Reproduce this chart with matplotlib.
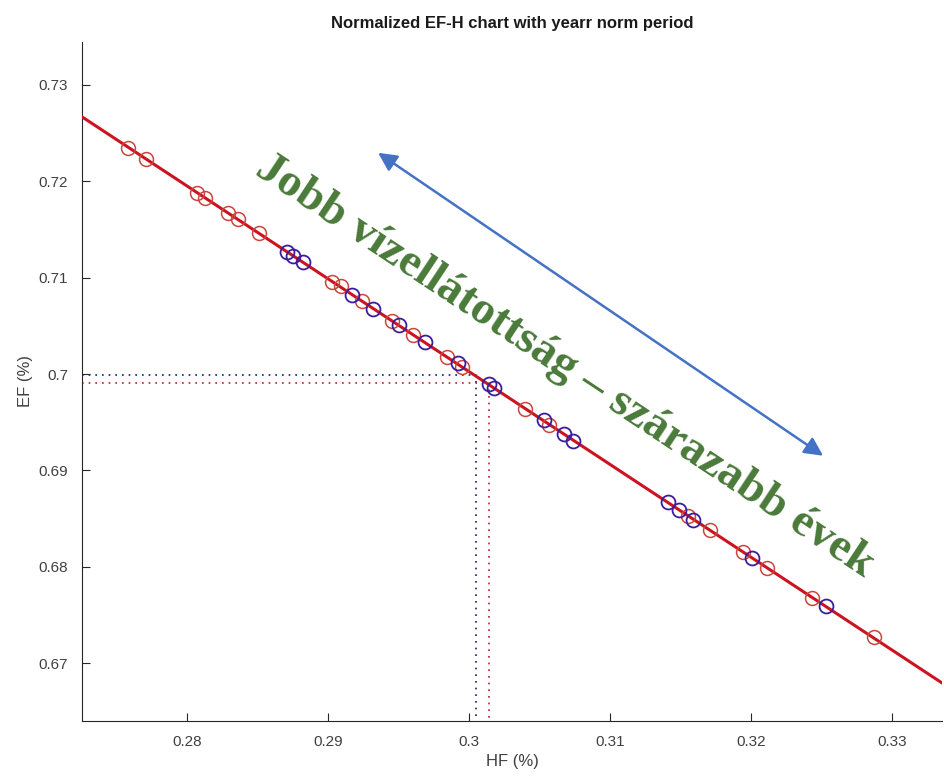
import numpy as np
import matplotlib
matplotlib.use("Agg")
import matplotlib.pyplot as plt

# red circles (HF, EF)
red_hf = [0.2758, 0.2771, 0.2807, 0.2813, 0.2829, 0.2836, 0.2851, 0.2903, 0.2909,
          0.2924, 0.2945, 0.2960, 0.2984, 0.2995, 0.3040, 0.3057, 0.3155, 0.3171,
          0.3194, 0.3211, 0.3243, 0.3287]
red_ef = [0.7235, 0.7223, 0.7188, 0.7183, 0.7167, 0.7161, 0.7146, 0.7096, 0.7091,
          0.7076, 0.7055, 0.7041, 0.7018, 0.7007, 0.6964, 0.6947, 0.6853, 0.6838,
          0.6815, 0.6799, 0.6768, 0.6727]

# blue circles (HF, EF)
blue_hf = [0.2871, 0.2875, 0.2882, 0.2917, 0.2932, 0.2950, 0.2969, 0.2992, 0.3014,
           0.3018, 0.3053, 0.3067, 0.3074, 0.3141, 0.3149, 0.3159, 0.3201, 0.3253]
blue_ef = [0.7127, 0.7123, 0.7116, 0.7082, 0.7068, 0.7051, 0.7033, 0.7011, 0.6990,
           0.6985, 0.6952, 0.6938, 0.6931, 0.6867, 0.6859, 0.6849, 0.6809, 0.6759]

# fitted line end points
line_hf = [0.27255, 0.33355]
line_ef = [0.72669, 0.66793]

# norm-period reference values
blue_norm = (0.30048, 0.69993)
red_norm = (0.30142, 0.69904)

x_ticks = [0.28, 0.29, 0.30, 0.31, 0.32, 0.33]
x_labels = ["0.28", "0.29", "0.3", "0.31", "0.32", "0.33"]
y_ticks = [0.67, 0.68, 0.69, 0.70, 0.71, 0.72, 0.73]
y_labels = ["0.67", "0.68", "0.69", "0.7", "0.71", "0.72", "0.73"]

plt.rcParams["font.family"] = ["Liberation Sans", "DejaVu Sans"]

fig = plt.figure(figsize=(9.44, 7.78), dpi=100)
ax = fig.add_axes([0.0869, 0.0733, 0.9111, 0.8727])

x0, x1 = 0.27255, 0.33355
y0, y1 = 0.66399, 0.73446
ax.set_xlim(x0, x1)
ax.set_ylim(y0, y1)

# dotted guide lines
ax.plot([x0, blue_norm[0], blue_norm[0]], [blue_norm[1], blue_norm[1], y0],
        linestyle=(0, (1, 3)), color="#1a1a6e", linewidth=1.2)
ax.plot([x0, red_norm[0], red_norm[0]], [red_norm[1], red_norm[1], y0],
        linestyle=(0, (1, 3)), color="#b02030", linewidth=1.2)

ax.plot(line_hf, line_ef, color="#cc1420", linewidth=2.2, zorder=3)
ax.plot(red_hf, red_ef, "o", markerfacecolor="none", markeredgecolor="#c8463c",
        markersize=10, markeredgewidth=1.1, zorder=4)
ax.plot(blue_hf, blue_ef, "o", markerfacecolor="none", markeredgecolor="#3a1e9c",
        markersize=10, markeredgewidth=1.3, zorder=4)

# annotation arrow and text
ax.annotate("", xy=(0.29355, 0.72296), xytext=(0.32511, 0.69152),
            arrowprops=dict(arrowstyle="<|-|>", color="#4472c4", lw=1.8,
                            mutation_scale=28, shrinkA=0, shrinkB=0))
ax.text(0.30681, 0.70083, "Jobb vízellátottság – szárazabb évek",
        rotation=-33.5, rotation_mode="anchor", ha="center", va="center",
        color="#4a7a3a", fontsize=34, fontweight="bold",
        family=["Liberation Serif", "DejaVu Serif"])

ax.set_xticks(x_ticks)
ax.set_xticklabels(x_labels)
ax.set_yticks(y_ticks)
ax.set_yticklabels(y_labels)
ax.tick_params(direction="in", length=6, labelsize=11, colors="#262626",
               labelcolor="#404040", pad=10)
ax.spines["top"].set_visible(False)
ax.spines["right"].set_visible(False)
ax.spines["left"].set_color("#262626")
ax.spines["bottom"].set_color("#262626")

ax.set_xlabel("HF (%)", fontsize=12, color="#404040", labelpad=4)
ax.set_ylabel("EF (%)", fontsize=12, color="#404040", labelpad=4)
ax.set_title("Normalized EF-H chart with yearr norm period", fontsize=12,
             fontweight="bold", color="#1a1a1a", pad=10)

fig.savefig("out.png", dpi=100)
